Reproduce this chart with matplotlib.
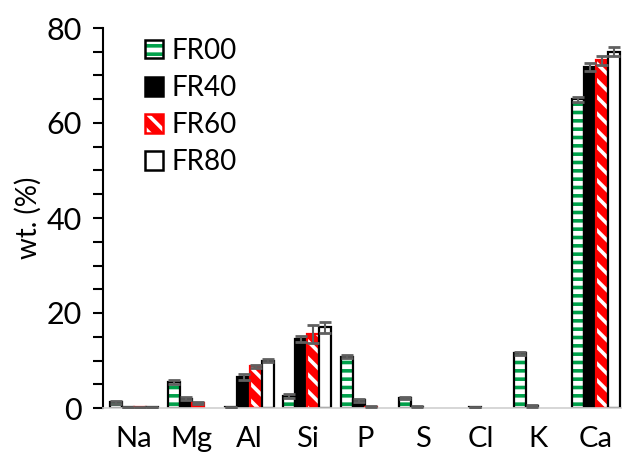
import matplotlib
matplotlib.use('Agg')
import matplotlib.pyplot as plt
from matplotlib.patches import Patch
from matplotlib.ticker import MultipleLocator
import numpy as np

# element composition (wt. %)
elements = ['Na', 'Mg', 'Al', 'Si', 'P', 'S', 'Cl', 'K', 'Ca']
series_names = ['FR00', 'FR40', 'FR60', 'FR80']

fr00 = [1.2, 5.5, 0.2, 2.6, 10.8, 2.1, 0.0, 11.5, 65.0]
fr40 = [0.2, 2.0, 6.6, 14.5, 1.6, 0.3, 0.2, 0.5, 71.8]
fr60 = [0.2, 1.0, 8.8, 15.5, 0.3, 0.0, 0.0, 0.0, 73.2]
fr80 = [0.2, 0.0, 10.0, 17.0, 0.0, 0.0, 0.0, 0.0, 75.0]

fr00_err = [0.3, 0.4, 0.1, 0.4, 0.3, 0.3, 0.0, 0.3, 0.5]
fr40_err = [0.1, 0.3, 0.6, 0.7, 0.3, 0.1, 0.1, 0.2, 0.8]
fr60_err = [0.1, 0.2, 0.3, 1.9, 0.1, 0.0, 0.0, 0.0, 1.0]
fr80_err = [0.1, 0.0, 0.3, 1.2, 0.0, 0.0, 0.0, 0.0, 1.0]

GREEN = '#00a04a'
RED = '#ff0000'
ERR = '#606060'

plt.rcParams['font.family'] = ['Lato', 'DejaVu Sans']
plt.rcParams['hatch.linewidth'] = 2.6

fig = plt.figure(figsize=(6.22, 4.65), dpi=100)
ax = fig.add_axes([103 / 622, 57 / 465, 1 - 103 / 622, 380 / 465])

x = np.arange(len(elements))
w = 0.208
offs = [-1.5 * w, -0.5 * w, 0.5 * w, 1.5 * w]


def hide_zero(vals):
    # empty cells in the source table are not drawn as bars
    return [v if v > 0 else np.nan for v in vals]


# FR00: white with green horizontal stripes, black outline
ax.bar(x + offs[0], hide_zero(fr00), w, facecolor='white', edgecolor=GREEN, hatch='--', linewidth=0)
ax.bar(x + offs[0], hide_zero(fr00), w, fill=False, edgecolor='black', linewidth=1.6)
# FR40: solid black
ax.bar(x + offs[1], hide_zero(fr40), w, facecolor='black', edgecolor='black', linewidth=1.6)
# FR60: red with white diagonal marks
ax.bar(x + offs[2], hide_zero(fr60), w, facecolor=RED, edgecolor='white', hatch='\\\\', linewidth=0)
ax.bar(x + offs[2], hide_zero(fr60), w, fill=False, edgecolor=RED, linewidth=1.6)
# FR80: white, black outline
ax.bar(x + offs[3], hide_zero(fr80), w, facecolor='white', edgecolor='black', linewidth=1.6)

for off, vals, errs in zip(offs, [fr00, fr40, fr60, fr80],
                           [fr00_err, fr40_err, fr60_err, fr80_err]):
    ax.errorbar(x + off, hide_zero(vals), yerr=errs, fmt='none', ecolor=ERR,
                elinewidth=1.5, capsize=4, capthick=2, zorder=5)

ax.set_xlim(-0.537, 8.45)
ax.set_ylim(0, 80)
ax.set_xticks(x)
ax.set_xticklabels(elements, fontsize=21)
ax.tick_params(axis='x', length=0, pad=13)
ax.yaxis.set_major_locator(MultipleLocator(20))
ax.yaxis.set_minor_locator(MultipleLocator(5))
ax.tick_params(axis='y', which='both', direction='out', length=7, width=1.5,
               labelsize=22, pad=8)
ax.set_ylabel('wt. (%)', fontsize=20, labelpad=4)

for s in ['top', 'right']:
    ax.spines[s].set_visible(False)
ax.spines['left'].set_linewidth(1.5)
ax.spines['bottom'].set_color('#d0d0d0')
ax.spines['bottom'].set_linewidth(1.2)

handles = [
    (Patch(facecolor='white', edgecolor=GREEN, hatch='--', linewidth=0),
     Patch(fill=False, edgecolor='black', linewidth=1.8)),
    Patch(facecolor='black', edgecolor='black', linewidth=1.8),
    (Patch(facecolor=RED, edgecolor='white', hatch='\\\\', linewidth=0),
     Patch(fill=False, edgecolor=RED, linewidth=1.8)),
    Patch(facecolor='white', edgecolor='black', linewidth=1.8),
]
ax.legend(handles, series_names, loc='upper left',
          bbox_to_anchor=(131 / 622, 1 - 24 / 465), bbox_transform=fig.transFigure,
          frameon=False, fontsize=20, handlelength=0.65, handleheight=0.65,
          handletextpad=0.3, labelspacing=0.4, borderpad=0)

fig.savefig('out.png', dpi=100)
